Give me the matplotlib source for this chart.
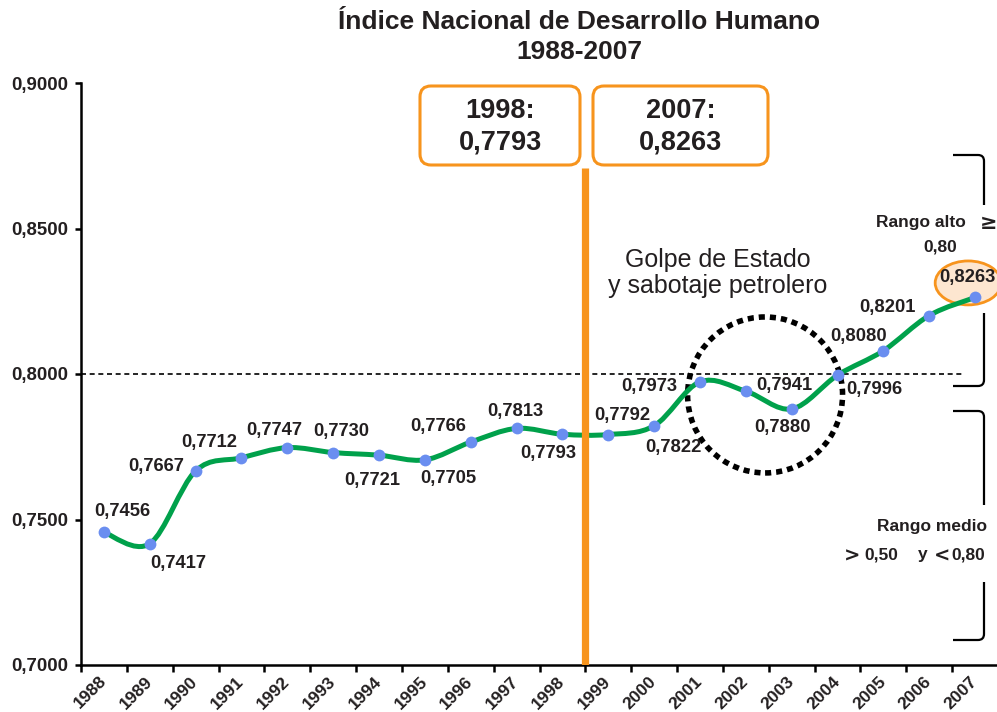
import numpy as np
import matplotlib
matplotlib.use("Agg")
import matplotlib.pyplot as plt
from matplotlib import patches
from matplotlib.path import Path
from matplotlib.transforms import IdentityTransform

plt.rcParams["font.family"] = ["Liberation Sans", "DejaVu Sans"]

years = ["1988", "1989", "1990", "1991", "1992", "1993", "1994", "1995", "1996", "1997",
         "1998", "1999", "2000", "2001", "2002", "2003", "2004", "2005", "2006", "2007"]
idh = [0.7456, 0.7417, 0.7667, 0.7712, 0.7747, 0.7730, 0.7721, 0.7705, 0.7766, 0.7813,
       0.7793, 0.7792, 0.7822, 0.7973, 0.7941, 0.7880, 0.7996, 0.8080, 0.8201, 0.8263]
y_ticks = [0.70, 0.75, 0.80, 0.85, 0.90]
umbral_alto = 0.80

# label offsets in pixels (dx, dy) from each point
label_off = [(18, 21), (28, -20), (-39, 4), (-32, 15), (-13, 17), (8, 21), (-7, -25),
             (23, -19), (-33, 16), (-1, 17), (-14, -19), (14, 19), (19, -22), (-51, -5),
             (38, 6), (-9, -19), (37, -14), (-25, 14), (-42, 8), (-8, 20)]

GREEN = "#00a14b"
ORANGE = "#f7941d"
BLUE = "#6a8ef0"
TXT = "#231f20"

W, H = 997, 712
fig = plt.figure(figsize=(W / 100, H / 100), dpi=100)
ax = fig.add_axes([81 / W, 1 - 665 / H, 917 / W, (665 - 83) / H])
x = np.arange(len(idh))
ax.set_xlim(-0.5, len(idh) - 0.5)
ax.set_ylim(0.70, 0.90)


def fx(px):
    return px / W


def fy(py):
    return 1 - py / H


# smooth line (Catmull-Rom as bezier path)
pts = np.column_stack([x, idh]).astype(float)
ext = np.vstack([pts[0], pts, pts[-1]])
verts = [pts[0]]
codes = [Path.MOVETO]
for i in range(len(pts) - 1):
    p0, p1, p2, p3 = ext[i], ext[i + 1], ext[i + 2], ext[i + 3]
    verts += [p1 + (p2 - p0) / 6, p2 - (p3 - p1) / 6, p2]
    codes += [Path.CURVE4] * 3
ax.add_patch(patches.PathPatch(Path(verts, codes), facecolor="none", edgecolor=GREEN,
                               lw=3.6, capstyle="round", zorder=3))

# threshold line
ax.plot([-0.5, 18.78], [umbral_alto, umbral_alto], color="black", lw=1.2,
        dashes=(3, 2.2), zorder=2)

# orange vertical line between 1998 and 1999
ax.plot([10.5, 10.5], [0.70, 0.8708], color=ORANGE, lw=5.2, solid_capstyle="butt",
        zorder=4)

# dotted circle
ax.add_patch(patches.Ellipse((14.42, 0.7928), 3.38, 0.0536, facecolor="none",
                             edgecolor="black", lw=4, linestyle=(0, (1.1, 0.9)),
                             zorder=2))
# highlight ellipse for 2007
ax.add_patch(patches.Ellipse((18.85, 0.8313), 1.44, 0.0151, facecolor="#fde6d0",
                             edgecolor=ORANGE, lw=2, zorder=2, clip_on=False))

ax.plot(x, idh, "o", color=BLUE, ms=8.5, mec="none", zorder=5, clip_on=False)

for xi, v, (dx, dy) in zip(x, idh, label_off):
    ax.annotate(f"{v:.4f}".replace(".", ","), (xi, v), xytext=(dx, dy),
                textcoords="offset pixels", ha="center", va="center",
                fontsize=13.2, fontweight="bold", color=TXT, zorder=6,
                annotation_clip=False)

# axes styling
for s in ["top", "right"]:
    ax.spines[s].set_visible(False)
for s in ["left", "bottom"]:
    ax.spines[s].set_linewidth(1.8)
ax.set_yticks(y_ticks)
ax.set_yticklabels([f"{t:.4f}".replace(".", ",") for t in y_ticks],
                   fontsize=13.4, fontweight="bold", color=TXT)
ax.tick_params(axis="y", length=4, width=1.8, pad=5)
ax.set_xticks(np.arange(-0.5, len(idh), 1))
ax.set_xticklabels([])
ax.tick_params(axis="x", which="major", length=5, width=1.8)
ax.set_xticks(x, minor=True)
ax.set_xticklabels(years, minor=True, rotation=45, ha="right", va="center",
                   rotation_mode="anchor", fontsize=12.6, fontweight="bold", color=TXT)
ax.tick_params(axis="x", which="minor", length=0, pad=10)

# title
fig.text(fx(579), fy(37), "Índice Nacional de Desarrollo Humano\n1988-2007", ha="center",
         va="center", fontsize=19, fontweight="bold", color=TXT, linespacing=1.3)

# boxes
for (x0, x1), txt in [((420, 580), "1998:\n0,7793"), ((593, 768), "2007:\n0,8263")]:
    box = patches.FancyBboxPatch((x0 + 8, H - 165 + 8), x1 - x0 - 16, 79 - 16,
                                 boxstyle="round,pad=8,rounding_size=11",
                                 transform=IdentityTransform(), facecolor="white",
                                 edgecolor=ORANGE, lw=2.2)
    fig.patches.append(box)
    fig.text(fx((x0 + x1) / 2), fy(127), txt, ha="center", va="center", fontsize=19.5,
             fontweight="bold", color=TXT, linespacing=1.3)

fig.text(fx(718), fy(273), "Golpe de Estado\ny sabotaje petrolero", ha="center",
         va="center", fontsize=18, color=TXT, linespacing=1.1)


# brackets
def bracket_shape(y_top, y_bot, gap_a, gap_b, xl=953, xr=984, r=6):
    top = Path([(xl, y_top), (xr - r, y_top), (xr, y_top), (xr, y_top + r), (xr, gap_a)],
               [Path.MOVETO, Path.LINETO, Path.CURVE3, Path.CURVE3, Path.LINETO])
    bot = Path([(xr, gap_b), (xr, y_bot - r), (xr, y_bot), (xr - r, y_bot), (xl, y_bot)],
               [Path.MOVETO, Path.LINETO, Path.CURVE3, Path.CURVE3, Path.LINETO])
    for p in (top, bot):
        v = np.array(p.vertices, dtype=float)
        v[:, 1] = H - v[:, 1]
        fig.patches.append(patches.PathPatch(Path(v, p.codes), facecolor="none",
                                             edgecolor="black", lw=1.6,
                                             transform=IdentityTransform()))


bracket_shape(155, 386, 205, 313)
bracket_shape(411, 640, 505, 582)

kw = dict(ha="center", va="center", fontsize=12.5, fontweight="bold", color=TXT)
fig.text(fx(921), fy(222), "Rango alto", **kw)
fig.text(fx(989), fy(223), "≥", ha="center", va="center", fontsize=15,
         fontweight="bold", color=TXT, family="DejaVu Sans")
fig.text(fx(940), fy(247), "0,80", **kw)
fig.text(fx(932), fy(526), "Rango medio", **kw)
for px, s in [(881, "0,50"), (923, "y"), (968, "0,80")]:
    fig.text(fx(px), fy(555), s, **kw)
for px, s in [(852, ">"), (942, "<")]:
    fig.text(fx(px), fy(556), s, ha="center", va="center", fontsize=14,
             fontweight="bold", color=TXT, family="DejaVu Sans")

fig.savefig("out.png", dpi=100)
